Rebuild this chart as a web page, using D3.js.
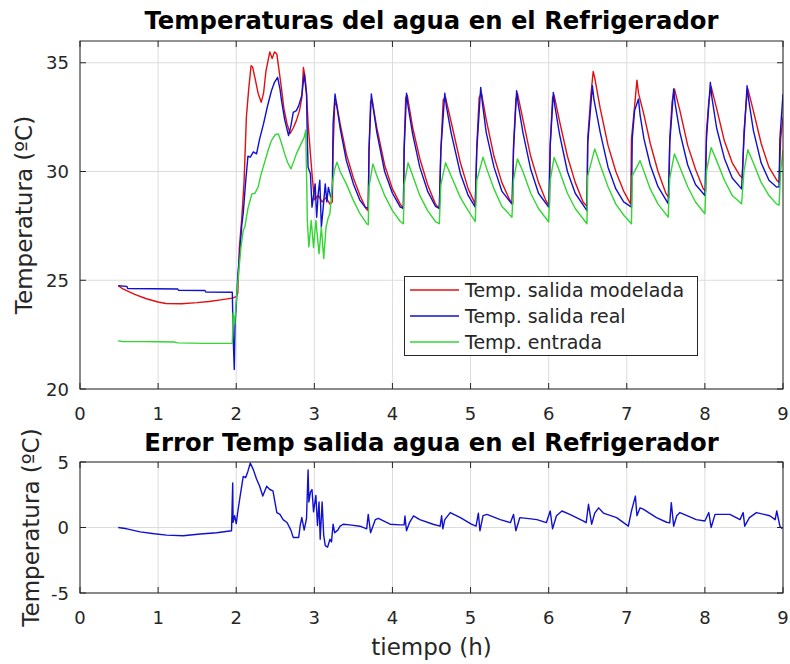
<!DOCTYPE html>
<html lang="en">
<head>
    <meta charset="UTF-8">
    <title>Temperaturas del agua en el Refrigerador</title>
    <style type="text/css">
        * {
            margin: 0;
            padding: 0;
        }

        body {
            background: #fff;
        }

        #chart-area {
            width: 790px;
            height: 664px;
        }
    </style>
</head>
<body>
<div id="chart-area"></div>
<script src="https://cdn.jsdelivr.net/npm/d3@7"></script>
<script type="text/javascript">

  // [tiempo (h), temperatura (ºC)]
  const salidaModelada = [
    [0.49, 24.75], [0.55, 24.6], [0.7, 24.35], [0.85, 24.15], [1.0, 24.0], [1.1, 23.93], [1.3, 23.92], [1.5, 23.97],
    [1.65, 24.02], [1.8, 24.1], [1.95, 24.18], [2.0, 24.25], [2.02, 24.4], [2.04, 26.5], [2.07, 27.8], [2.1, 29.5],
    [2.13, 32.5], [2.16, 33.8], [2.19, 34.86], [2.21, 34.8], [2.24, 34.3], [2.28, 33.6], [2.32, 33.18], [2.35, 33.6],
    [2.38, 34.6], [2.43, 35.5], [2.46, 35.2], [2.49, 35.5], [2.52, 35.4], [2.55, 34.6], [2.58, 33.8], [2.61, 32.9],
    [2.65, 32.2], [2.69, 31.75], [2.73, 32.0], [2.77, 32.34], [2.81, 32.8], [2.84, 33.4], [2.86, 34.78], [2.88, 34.4],
    [2.9, 33.6], [2.92, 32.2], [2.95, 30.8], [2.97, 29.9], [3.0, 28.7], [3.05, 28.9], [3.1, 28.6], [3.15, 28.8],
    [3.2, 28.5], [3.23, 28.6], [3.24, 31.0], [3.26, 33.0], [3.28, 33.2],
    [3.33, 32.2], [3.41, 30.8], [3.5, 29.7], [3.585, 28.9], [3.66, 28.3], [3.69, 28.2], [3.7, 31.0], [3.72, 33.2], [3.74, 33.3],
    [3.8, 32.0], [3.9, 30.3], [4.0, 29.2], [4.1, 28.5], [4.14, 28.3], [4.15, 31.2], [4.17, 33.4], [4.19, 33.5],
    [4.26, 32.0], [4.35, 30.6], [4.45, 29.4], [4.55, 28.5], [4.6, 28.3], [4.62, 31.0], [4.65, 33.3], [4.68, 33.4],
    [4.75, 32.3], [4.87, 30.4], [4.97, 29.2], [5.06, 28.5], [5.08, 31.2], [5.11, 33.4], [5.14, 33.6],
    [5.2, 32.4], [5.3, 30.7], [5.4, 29.5], [5.5, 28.7], [5.54, 28.5], [5.55, 31.2], [5.58, 33.3], [5.6, 33.6],
    [5.67, 32.4], [5.77, 30.7], [5.87, 29.5], [5.96, 28.7], [6.01, 28.4], [6.02, 31.3], [6.05, 33.4], [6.07, 33.5],
    [6.14, 32.3], [6.24, 30.7], [6.34, 29.5], [6.44, 28.6], [6.49, 28.4], [6.5, 31.5], [6.54, 33.5], [6.57, 34.6], [6.59, 34.3],
    [6.66, 32.9], [6.76, 31.2], [6.86, 30.0], [6.96, 29.1], [7.05, 28.5], [7.06, 31.5], [7.1, 33.0], [7.13, 34.2], [7.15, 33.6],
    [7.22, 32.6], [7.3, 31.3], [7.4, 30.0], [7.5, 29.0], [7.54, 28.8], [7.55, 31.5], [7.58, 33.2], [7.61, 33.8],
    [7.68, 32.8], [7.78, 31.2], [7.88, 30.1], [7.98, 29.2], [8.01, 29.1], [8.02, 31.8], [8.05, 33.2], [8.08, 33.9],
    [8.15, 32.9], [8.25, 31.4], [8.35, 30.4], [8.45, 29.8], [8.48, 29.7], [8.5, 31.8], [8.53, 33.2], [8.55, 33.8],
    [8.62, 32.8], [8.72, 31.3], [8.82, 30.2], [8.92, 29.6], [8.95, 29.5], [8.97, 31.5], [9.0, 32.5]
  ]

  const salidaReal = [
    [0.49, 24.75], [0.6, 24.72], [0.61, 24.62], [1.25, 24.6], [1.26, 24.54], [1.6, 24.53], [1.61, 24.46], [1.95, 24.45],
    [1.96, 22.5], [1.975, 20.9], [1.985, 23.0], [2.0, 23.8], [2.02, 25.2], [2.05, 26.5], [2.07, 27.5], [2.09, 28.1],
    [2.12, 29.5], [2.15, 30.7], [2.18, 30.66], [2.22, 30.9], [2.26, 30.81], [2.3, 31.5], [2.35, 32.2], [2.4, 33.0],
    [2.45, 33.7], [2.49, 34.1], [2.53, 34.33], [2.56, 33.8], [2.58, 33.26], [2.62, 32.4], [2.67, 31.65], [2.7, 32.1],
    [2.73, 32.72], [2.77, 32.8], [2.8, 33.03], [2.84, 33.5], [2.87, 34.48], [2.9, 33.56], [2.91, 31.5], [2.92, 30.2],
    [2.95, 29.9], [2.97, 28.36], [3.01, 29.43], [3.03, 27.9], [3.05, 29.0], [3.07, 29.6], [3.09, 27.44], [3.11, 28.2],
    [3.14, 29.43], [3.16, 28.6], [3.18, 29.27], [3.21, 28.82], [3.23, 29.0], [3.24, 32.19], [3.265, 33.56], [3.28, 33.2],
    [3.33, 32.0], [3.41, 30.5], [3.5, 29.43], [3.585, 28.67], [3.65, 28.36], [3.69, 28.3], [3.7, 31.0], [3.73, 33.56], [3.75, 33.0],
    [3.8, 31.8], [3.9, 30.0], [4.0, 29.0], [4.1, 28.36], [4.14, 28.3], [4.15, 31.0], [4.18, 33.6], [4.2, 33.0],
    [4.26, 31.7], [4.35, 30.2], [4.45, 29.1], [4.55, 28.4], [4.6, 28.3], [4.62, 31.0], [4.67, 33.6], [4.69, 33.0],
    [4.75, 31.8], [4.87, 29.9], [4.97, 28.9], [5.06, 28.36], [5.08, 31.0], [5.13, 33.87], [5.15, 33.2],
    [5.2, 31.8], [5.3, 30.2], [5.4, 29.1], [5.53, 28.5], [5.55, 31.0], [5.59, 33.72], [5.61, 33.1],
    [5.67, 31.8], [5.77, 30.1], [5.87, 29.0], [6.0, 28.36], [6.02, 31.2], [6.06, 33.64], [6.08, 33.0],
    [6.14, 31.7], [6.24, 30.0], [6.34, 29.0], [6.49, 28.2], [6.5, 31.3], [6.56, 33.94], [6.58, 33.3],
    [6.66, 31.8], [6.76, 30.2], [6.86, 29.2], [6.96, 28.6], [7.06, 28.36], [7.07, 31.5], [7.1, 32.8], [7.15, 33.33], [7.17, 32.6],
    [7.22, 31.5], [7.3, 30.3], [7.4, 29.3], [7.53, 28.52], [7.55, 31.3], [7.6, 33.79], [7.62, 33.1],
    [7.68, 31.8], [7.78, 30.3], [7.88, 29.4], [8.0, 28.9], [8.02, 31.5], [8.07, 34.1], [8.09, 33.4],
    [8.15, 32.0], [8.25, 30.6], [8.35, 29.7], [8.47, 29.2], [8.5, 31.5], [8.54, 33.94], [8.56, 33.3],
    [8.62, 31.9], [8.72, 30.4], [8.82, 29.6], [8.92, 29.28], [8.95, 29.3], [8.96, 31.5], [9.0, 33.56]
  ]

  const entrada = [
    [0.49, 22.22], [0.55, 22.18], [0.8, 22.18], [1.0, 22.17], [1.2, 22.16], [1.25, 22.12], [1.6, 22.1], [1.95, 22.1],
    [1.96, 23.5], [1.98, 23.0], [2.0, 24.0], [2.03, 25.3], [2.06, 26.5], [2.09, 27.3], [2.11, 27.44], [2.15, 28.3],
    [2.2, 28.97], [2.24, 29.0], [2.28, 29.28], [2.32, 29.9], [2.37, 30.5], [2.41, 31.0], [2.45, 31.42], [2.5, 31.7],
    [2.54, 31.73], [2.58, 31.3], [2.62, 30.81], [2.66, 30.4], [2.7, 30.12], [2.74, 30.5], [2.77, 30.81], [2.82, 31.2],
    [2.87, 31.57], [2.89, 31.9], [2.905, 29.0], [2.91, 27.75], [2.93, 26.53], [2.96, 27.75], [2.99, 26.5], [3.02, 27.75],
    [3.06, 26.22], [3.09, 27.44], [3.12, 26.0], [3.15, 27.44], [3.18, 27.9], [3.2, 28.06], [3.23, 29.43], [3.26, 30.1], [3.29, 30.43],
    [3.33, 30.0], [3.41, 29.43], [3.5, 28.67], [3.585, 28.06], [3.67, 27.6], [3.69, 27.55], [3.7, 29.3], [3.75, 30.35],
    [3.8, 29.8], [3.9, 28.9], [4.0, 28.2], [4.1, 27.7], [4.14, 27.6], [4.15, 29.4], [4.2, 30.4],
    [4.26, 29.8], [4.35, 28.9], [4.45, 28.2], [4.55, 27.7], [4.6, 27.6], [4.62, 29.4], [4.68, 30.4],
    [4.75, 29.8], [4.87, 28.8], [4.97, 28.2], [5.06, 27.7], [5.08, 29.6], [5.16, 30.66],
    [5.2, 30.2], [5.3, 29.2], [5.4, 28.4], [5.53, 27.9], [5.55, 29.6], [5.6, 30.58],
    [5.67, 30.0], [5.77, 29.0], [5.87, 28.3], [6.0, 27.68], [6.02, 29.6], [6.07, 30.65],
    [6.14, 30.0], [6.24, 29.0], [6.34, 28.3], [6.49, 27.6], [6.5, 29.8], [6.59, 31.04],
    [6.66, 30.3], [6.76, 29.3], [6.86, 28.5], [6.96, 28.0], [7.06, 27.6], [7.07, 29.8], [7.17, 30.5],
    [7.22, 30.0], [7.3, 29.2], [7.4, 28.5], [7.53, 27.9], [7.55, 29.7], [7.61, 30.81],
    [7.68, 30.2], [7.78, 29.3], [7.88, 28.6], [8.0, 28.06], [8.02, 30.0], [8.08, 31.1],
    [8.15, 30.5], [8.25, 29.6], [8.35, 28.9], [8.47, 28.52], [8.5, 30.0], [8.55, 31.0],
    [8.62, 30.4], [8.72, 29.5], [8.82, 28.9], [8.92, 28.5], [8.95, 28.45], [8.97, 30.0], [9.0, 31.0]
  ]

  // [tiempo (h), error (ºC)]
  const errorSalida = [
    [0.49, 0.0], [0.6, -0.1], [0.77, -0.33], [0.95, -0.48], [1.11, -0.58], [1.32, -0.63], [1.54, -0.5], [1.75, -0.4],
    [1.94, -0.25], [1.955, 3.4], [1.96, 0.4], [1.98, 0.9], [2.0, 0.3], [2.02, 1.2], [2.05, 2.4], [2.09, 3.9], [2.12, 3.8],
    [2.15, 4.3], [2.18, 4.92], [2.22, 4.4], [2.26, 3.7], [2.3, 3.15], [2.34, 2.4], [2.39, 3.15], [2.43, 2.9], [2.47, 2.8],
    [2.5, 1.8], [2.52, 1.14], [2.56, 1.0], [2.6, 0.6], [2.65, 0.38], [2.7, -0.2], [2.73, -0.76], [2.8, -0.76], [2.82, 0.2],
    [2.84, 0.76], [2.87, -0.2], [2.9, 0.7], [2.92, 4.4], [2.93, 1.95], [2.95, 2.7], [2.97, 2.9], [2.99, 1.2], [3.02, 2.45],
    [3.04, 0.15], [3.06, 1.95], [3.075, -0.9], [3.1, 1.95], [3.12, -0.6], [3.14, -1.39], [3.17, -1.5], [3.2, -0.9],
    [3.22, -1.1], [3.24, 0.25], [3.26, -0.4], [3.3, -0.2], [3.33, 0.1], [3.37, 0.25], [3.45, 0.2], [3.585, 0.1],
    [3.67, -0.1], [3.69, 1.0], [3.72, -0.4], [3.78, 0.6], [3.82, 0.7], [3.97, 0.25], [4.1, 0.2], [4.15, 0.2], [4.16, 0.88],
    [4.18, -0.25], [4.22, 0.4], [4.27, 0.88], [4.35, 0.6], [4.52, 0.25], [4.61, 0.1], [4.63, 0.9], [4.645, -0.1], [4.67, 0.6],
    [4.74, 1.14], [4.87, 0.75], [5.01, 0.25], [5.07, 0.1], [5.1, 1.1], [5.12, -0.25], [5.16, 0.9], [5.21, 1.0], [5.38, 0.6],
    [5.51, 0.37], [5.55, 1.0], [5.58, -0.25], [5.63, 0.75], [5.72, 0.7], [5.85, 0.6], [5.97, 0.37], [6.02, 1.26], [6.05, -0.1],
    [6.1, 0.9], [6.17, 1.26], [6.27, 1.0], [6.44, 0.5], [6.48, 0.37], [6.51, 1.77], [6.55, 0.25], [6.59, 1.1], [6.64, 1.5],
    [6.7, 1.1], [6.87, 0.75], [7.02, 0.1], [7.06, 1.26], [7.11, 2.4], [7.13, 0.9], [7.17, 1.5], [7.21, 1.4], [7.38, 0.75],
    [7.51, 0.4], [7.55, 0.35], [7.57, 1.9], [7.6, 0.1], [7.64, 0.9], [7.68, 1.14], [7.89, 0.6], [8.0, 0.5], [8.05, 1.14],
    [8.08, 0.0], [8.13, 1.0], [8.32, 1.0], [8.45, 0.6], [8.49, 1.14], [8.51, 0.1], [8.57, 0.75], [8.66, 1.14], [8.83, 0.9],
    [8.9, 0.6], [8.92, 1.26], [8.96, 0.1], [8.99, -0.1]
  ]

  const xTicks = [0, 1, 2, 3, 4, 5, 6, 7, 8, 9]
  const yTicksTop = [20, 25, 30, 35]
  const yTicksBottom = [-5, 0, 5]
  const legendLabels = ['Temp. salida modelada', 'Temp. salida real', 'Temp. entrada']

  const WIDTH = 790
  const HEIGHT = 664
  const FONT = '"DejaVu Sans", sans-serif'
  const AXIS_COLOR = '#262626'
  const GRID_COLOR = '#dcdcdc'
  const colors = ['#e01010', '#1010d0', '#33d633']

  const svg = d3.select('#chart-area').append('svg')
      .attr('width', WIDTH)
      .attr('height', HEIGHT)
      .style('font-family', FONT)

  const left = 80
  const right = 783

  const x = d3.scaleLinear().domain([0, 9]).range([left, right])

  function drawAxes(top, bottom, y, yTicks, id) {
    const g = svg.append('g')

    // grid
    g.selectAll('.gx').data(xTicks).enter().append('line')
        .attr('x1', (d) => x(d)).attr('x2', (d) => x(d))
        .attr('y1', top).attr('y2', bottom)
        .attr('stroke', GRID_COLOR).attr('stroke-width', 1)
    g.selectAll('.gy').data(yTicks).enter().append('line')
        .attr('x1', left).attr('x2', right)
        .attr('y1', (d) => y(d)).attr('y2', (d) => y(d))
        .attr('stroke', GRID_COLOR).attr('stroke-width', 1)

    svg.append('clipPath').attr('id', id)
        .append('rect')
        .attr('x', left).attr('y', top)
        .attr('width', right - left).attr('height', bottom - top)

    return g
  }

  function drawFrame(top, bottom, y, yTicks) {
    const g = svg.append('g')
    const tl = 6

    // inward ticks on all four sides
    xTicks.forEach((d) => {
      g.append('line').attr('x1', x(d)).attr('x2', x(d)).attr('y1', bottom).attr('y2', bottom - tl)
          .attr('stroke', AXIS_COLOR)
      g.append('line').attr('x1', x(d)).attr('x2', x(d)).attr('y1', top).attr('y2', top + tl)
          .attr('stroke', AXIS_COLOR)
    })
    yTicks.forEach((d) => {
      g.append('line').attr('x1', left).attr('x2', left + tl).attr('y1', y(d)).attr('y2', y(d))
          .attr('stroke', AXIS_COLOR)
      g.append('line').attr('x1', right).attr('x2', right - tl).attr('y1', y(d)).attr('y2', y(d))
          .attr('stroke', AXIS_COLOR)
    })

    g.append('rect')
        .attr('x', left).attr('y', top)
        .attr('width', right - left).attr('height', bottom - top)
        .attr('fill', 'none')
        .attr('stroke', AXIS_COLOR)
        .attr('stroke-width', 1)

    g.selectAll('.xl').data(xTicks).enter().append('text')
        .attr('x', (d) => x(d))
        .attr('y', bottom + 31)
        .attr('text-anchor', 'middle')
        .attr('font-size', '18px')
        .attr('fill', AXIS_COLOR)
        .text((d) => d)

    g.selectAll('.yl').data(yTicks).enter().append('text')
        .attr('x', left - 11)
        .attr('y', (d) => y(d) + 6.5)
        .attr('text-anchor', 'end')
        .attr('font-size', '18px')
        .attr('fill', AXIS_COLOR)
        .text((d) => d)
  }

  const line = (y) => d3.line()
      .x((d) => x(d[0]))
      .y((d) => y(d[1]))

  // ---------- top panel ----------
  const topT = 41
  const topB = 389
  const yTop = d3.scaleLinear().domain([20, 36]).range([topB, topT])

  drawAxes(topT, topB, yTop, yTicksTop, 'clip-top')

  const series = [salidaModelada, salidaReal, entrada]
  const plotTop = svg.append('g').attr('clip-path', 'url(#clip-top)')
  series.forEach((s, i) => {
    plotTop.append('path')
        .datum(s)
        .attr('d', line(yTop))
        .attr('fill', 'none')
        .attr('stroke', colors[i])
        .attr('stroke-width', 1.4)
        .attr('stroke-linejoin', 'round')
  })

  drawFrame(topT, topB, yTop, yTicksTop)

  svg.append('text')
      .attr('x', (left + right) / 2)
      .attr('y', 28.5)
      .attr('text-anchor', 'middle')
      .attr('font-size', '24.3px')
      .attr('font-weight', 'bold')
      .attr('fill', '#000')
      .text('Temperaturas del agua en el Refrigerador')

  svg.append('text')
      .attr('transform', `translate(32, ${(topT + topB) / 2}) rotate(-90)`)
      .attr('text-anchor', 'middle')
      .attr('font-size', '23px')
      .attr('fill', AXIS_COLOR)
      .text('Temperatura (ºC)')

  // legend
  const lg = svg.append('g')
  lg.append('rect')
      .attr('x', 404.5).attr('y', 276.5)
      .attr('width', 293).attr('height', 79)
      .attr('fill', '#fff')
      .attr('stroke', AXIS_COLOR)
  legendLabels.forEach((label, i) => {
    const cy = 290 + i * 26
    lg.append('line')
        .attr('x1', 410).attr('x2', 459)
        .attr('y1', cy).attr('y2', cy)
        .attr('stroke', colors[i])
        .attr('stroke-width', 1.4)
    lg.append('text')
        .attr('x', 465)
        .attr('y', cy + 7)
        .attr('font-size', '19px')
        .attr('fill', AXIS_COLOR)
        .text(label)
  })

  // ---------- bottom panel ----------
  const botT = 462
  const botB = 593
  const yBot = d3.scaleLinear().domain([-5, 5]).range([botB, botT])

  drawAxes(botT, botB, yBot, yTicksBottom, 'clip-bot')

  svg.append('g').attr('clip-path', 'url(#clip-bot)')
      .append('path')
      .datum(errorSalida)
      .attr('d', line(yBot))
      .attr('fill', 'none')
      .attr('stroke', colors[1])
      .attr('stroke-width', 1.4)
      .attr('stroke-linejoin', 'round')

  drawFrame(botT, botB, yBot, yTicksBottom)

  svg.append('text')
      .attr('x', (left + right) / 2)
      .attr('y', 451)
      .attr('text-anchor', 'middle')
      .attr('font-size', '24.3px')
      .attr('font-weight', 'bold')
      .attr('fill', '#000')
      .text('Error Temp salida agua en el Refrigerador')

  svg.append('text')
      .attr('transform', `translate(39, ${(botT + botB) / 2}) rotate(-90)`)
      .attr('text-anchor', 'middle')
      .attr('font-size', '23px')
      .attr('fill', AXIS_COLOR)
      .text('Temperatura (ºC)')

  svg.append('text')
      .attr('x', (left + right) / 2)
      .attr('y', 655)
      .attr('text-anchor', 'middle')
      .attr('font-size', '23px')
      .attr('fill', AXIS_COLOR)
      .text('tiempo (h)')

</script>
</body>
</html>
